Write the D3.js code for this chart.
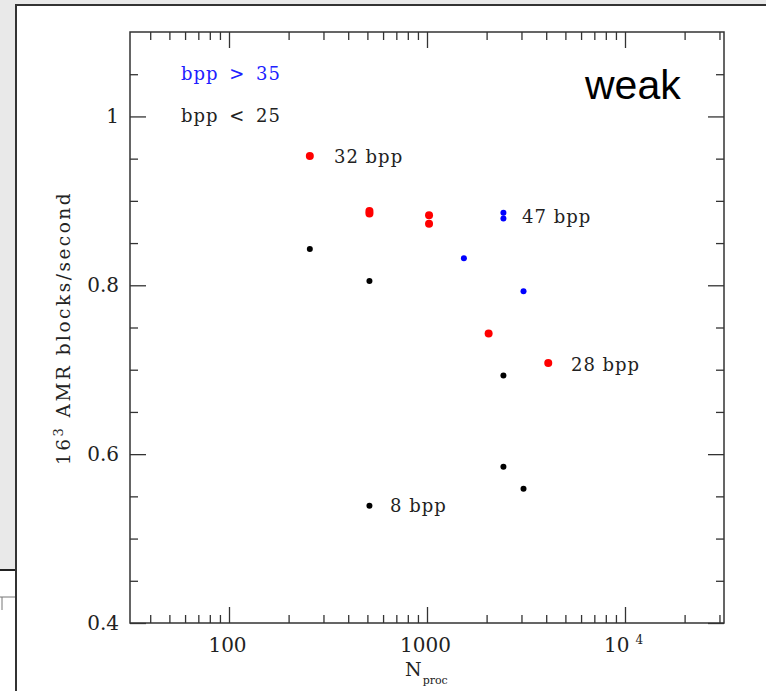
<!DOCTYPE html>
<html>
<head>
<meta charset="utf-8">
<script src="https://d3js.org/d3.v7.min.js"></script>
<style>
  body { margin: 0; background: #fff; }
  svg { display: block; }
  .serif { font-family: "DejaVu Serif", serif; fill: #222; }
</style>
</head>
<body>
<script>
var width = 766;
var height = 691;

// red points (~32/28 bpp runs)
var redN = [256, 512, 512, 1024, 1024, 2048, 4096];
var redV = [0.953, 0.888, 0.885, 0.883, 0.873, 0.743, 0.708];
// blue points (bpp > 35)
var blueN = [1536, 2432, 2432, 3072];
var blueV = [0.832, 0.886, 0.879, 0.793];
// black points (bpp < 25)
var blackN = [256, 512, 512, 2432, 2432, 3072];
var blackV = [0.843, 0.805, 0.539, 0.693, 0.585, 0.559];

var noteText = ['32 bpp', '47 bpp', '28 bpp', '8 bpp'];
var noteN = [339, 3020, 5333, 650];
var noteV = [0.945, 0.874, 0.698, 0.532];

var yMajor = [0.4, 0.6, 0.8, 1.0];
var yMinor = [0.45, 0.5, 0.55, 0.65, 0.7, 0.75, 0.85, 0.9, 0.95, 1.05];
var xMajor = [100, 1000, 10000];
var xLabels = ['100', '1000', '10'];

var svg = d3.select('body').append('svg')
    .attr('width', width)
    .attr('height', height);

// window chrome around the figure
svg.append('rect').attr('width', width).attr('height', height).attr('fill', '#e9e9e9');
svg.append('rect').attr('x', 16).attr('y', 5).attr('width', width - 16).attr('height', height - 5).attr('fill', '#fff');
svg.append('rect').attr('x', 0).attr('y', 570).attr('width', 16).attr('height', height - 570).attr('fill', '#fff');
svg.append('line').attr('x1', 0).attr('x2', 16).attr('y1', 570).attr('y2', 570).attr('stroke', '#222').attr('stroke-width', 2);
svg.append('line').attr('x1', 0).attr('x2', 16).attr('y1', 597).attr('y2', 597).attr('stroke', '#777').attr('stroke-width', 1);
svg.append('line').attr('x1', 2).attr('x2', 2).attr('y1', 597).attr('y2', 610).attr('stroke', '#777').attr('stroke-width', 1);
svg.append('path').attr('d', 'M16,' + height + 'V5H' + width)
    .attr('fill', 'none').attr('stroke', '#333').attr('stroke-width', 2);

var x = d3.scaleLog()
    .domain([Math.pow(10, 1.5), Math.pow(10, 4.5)])
    .range([130, 724]);

var y = d3.scaleLinear()
    .domain([0.4, 1.1])
    .range([623, 32]);

var xMinor = x.ticks().filter(function(d) { return xMajor.indexOf(d) < 0; });

function styleAxis(g) {
    g.select('.domain').remove();
    g.selectAll('line').attr('stroke', '#333').attr('stroke-width', 1.3);
    g.selectAll('text').attr('class', 'serif').attr('font-size', 20).attr('fill', '#2a2a2a');
}

// left
svg.append('g').attr('transform', 'translate(130,0)')
    .call(d3.axisLeft(y).tickValues(yMajor).tickSize(-16).tickPadding(11)
        .tickFormat(function(d) { return d === 1 ? '1' : d3.format('.1f')(d); }))
    .call(styleAxis);
svg.append('g').attr('transform', 'translate(130,0)')
    .call(d3.axisLeft(y).tickValues(yMinor).tickSize(-8).tickFormat(''))
    .call(styleAxis);
// right
svg.append('g').attr('transform', 'translate(724,0)')
    .call(d3.axisRight(y).tickValues(yMajor).tickSize(-16).tickFormat(''))
    .call(styleAxis);
svg.append('g').attr('transform', 'translate(724,0)')
    .call(d3.axisRight(y).tickValues(yMinor).tickSize(-8).tickFormat(''))
    .call(styleAxis);
// bottom
var xb = svg.append('g').attr('transform', 'translate(0,623)')
    .call(d3.axisBottom(x).tickValues(xMajor).tickSize(-16).tickPadding(15)
        .tickFormat(function(d, i) { return xLabels[i]; }))
    .call(styleAxis);
xb.selectAll('text').attr('dx', -2);
xb.selectAll('text').filter(function(d) { return d === 10000; })
    .append('tspan').attr('dx', 6).attr('dy', -8).attr('font-size', 12).text('4');
svg.append('g').attr('transform', 'translate(0,623)')
    .call(d3.axisBottom(x).tickValues(xMinor).tickSize(-8).tickFormat(''))
    .call(styleAxis);
// top
svg.append('g').attr('transform', 'translate(0,32)')
    .call(d3.axisTop(x).tickValues(xMajor).tickSize(-16).tickFormat(''))
    .call(styleAxis);
svg.append('g').attr('transform', 'translate(0,32)')
    .call(d3.axisTop(x).tickValues(xMinor).tickSize(-8).tickFormat(''))
    .call(styleAxis);

// frame
svg.append('rect')
    .attr('x', 130).attr('y', 32)
    .attr('width', 724 - 130).attr('height', 623 - 32)
    .attr('fill', 'none').attr('stroke', '#333').attr('stroke-width', 1.5);

// points
function dots(ns, vs, color, r) {
    svg.append('g').selectAll('circle')
        .data(ns.map(function(n, i) { return [n, vs[i]]; }))
        .enter().append('circle')
        .attr('cx', function(d) { return x(d[0]); })
        .attr('cy', function(d) { return y(d[1]); })
        .attr('r', r)
        .attr('fill', color);
}
dots(blackN, blackV, '#000', 3);
dots(blueN, blueV, '#0000ff', 3);
dots(redN, redV, '#ff0000', 4);

// annotations
svg.append('g').selectAll('text')
    .data(noteText)
    .enter().append('text')
    .attr('class', 'serif')
    .attr('x', function(d, i) { return x(noteN[i]); })
    .attr('y', function(d, i) { return y(noteV[i]); })
    .attr('font-size', 18)
    .attr('letter-spacing', 1)
    .text(function(d) { return d; });

// legend
svg.append('text').attr('class', 'serif')
    .attr('x', 181).attr('y', 80)
    .attr('font-size', 18).attr('letter-spacing', 1).attr('word-spacing', 4)
    .style('fill', '#2020ff')
    .text('bpp > 35');
svg.append('text').attr('class', 'serif')
    .attr('x', 181).attr('y', 122)
    .attr('font-size', 18).attr('letter-spacing', 1).attr('word-spacing', 4)
    .text('bpp < 25');

svg.append('text')
    .attr('x', 585).attr('y', 99)
    .attr('font-family', '"Liberation Sans", Arial, sans-serif')
    .attr('font-size', 41)
    .attr('fill', '#000')
    .text('weak');

// axis titles
var yl = svg.append('text').attr('class', 'serif')
    .attr('transform', 'translate(70,328) rotate(-90)')
    .attr('text-anchor', 'middle')
    .attr('font-size', 18.5)
    .attr('letter-spacing', 2.5);
yl.append('tspan').text('16');
yl.append('tspan').attr('font-size', 13).attr('dy', -7).text('3');
yl.append('tspan').attr('dy', 7).text(' AMR blocks/second');

var xl = svg.append('text').attr('class', 'serif')
    .attr('x', 405).attr('y', 676)
    .attr('font-size', 19);
xl.append('tspan').text('N');
xl.append('tspan').attr('font-size', 11).attr('dy', 8).attr('dx', 1).text('proc');
</script>
</body>
</html>
